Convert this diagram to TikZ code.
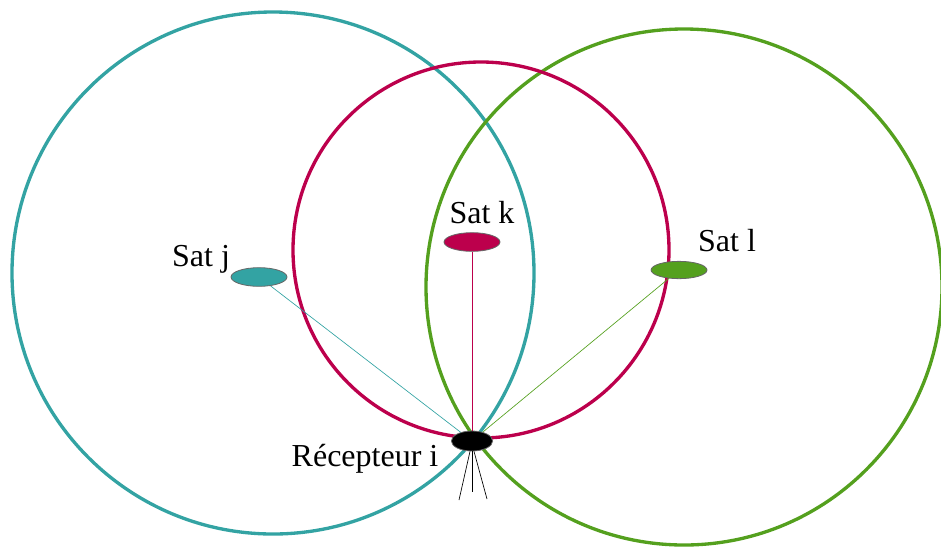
\documentclass[tikz,border=0pt]{standalone}
\usepackage{fontspec}
\setmainfont{Liberation Serif}
\usepackage{xcolor}
\usepackage{tikz}

\definecolor{satteal}{RGB}{51,163,163}
\definecolor{satred}{RGB}{188,0,76}
\definecolor{satgreen}{RGB}{84,160,30}

\tikzset{
  sat/.style={ellipse, draw=gray!80!black, line width=0.6pt, minimum width=42pt, minimum height=14pt, inner sep=0pt},
  label/.style={inner sep=0.75pt, font=\fontsize{24}{28}\selectfont},
  orbit/.style={line width=2.5pt},
  ray/.style={line width=0.5pt}
}
\usetikzlibrary{shapes.geometric}

\begin{document}
\begin{tikzpicture}[x=0.75pt,y=0.75pt,yscale=-1,xscale=1]
    \useasboundingbox (0,0) rectangle (941,547);
    \begin{scope}
    \clip (0,0) rectangle (941,547);
    %Shape: Circle
    \draw [satteal, orbit] (273,273) circle (261);
    %Shape: Circle
    \draw [satgreen, orbit] (684,287) circle (258);
    %Shape: Circle
    \draw [satred, orbit] (481,250) circle (188);
    \end{scope}
    %Shape: Ellipse
    \node [sat, fill=satteal] (satj) at (259,277) {};
    %Shape: Ellipse
    \node [sat, fill=satred] (satk) at (472,242) {};
    %Shape: Ellipse
    \node [sat, fill=satgreen, minimum height=13pt] (satl) at (679,270) {};
    %Shape: Ellipse
    \node [sat, fill=black, minimum width=31pt, minimum height=15pt] (rec) at (472,441) {};
    %Straight Lines
    \draw [satteal, ray] (satj) -- (rec);
    \draw [satred, ray] (satk) -- (rec);
    \draw [satgreen, ray] (satl) -- (rec);
    % Legs
    \coordinate (legl) at (459,500);
    \coordinate (legm) at (472,492);
    \coordinate (legr) at (487,499);
    \draw [ray] (rec.south) ++(-2,0) -- (legl);
    \draw [ray] (rec.south) -- (legm);
    \draw [ray] (rec.south) ++(2,0) -- (legr);
    % Text Node
    \node [label] (labj) at (201,259) {Sat j};
    % Text Node
    \node [label] (labk) at (482,213) {Sat k};
    % Text Node
    \node [label] (labl) at (727,241) {Sat l};
    % Text Node
    \node [label] (labrec) at (365,459) {Récepteur i};
\end{tikzpicture}
\end{document}
